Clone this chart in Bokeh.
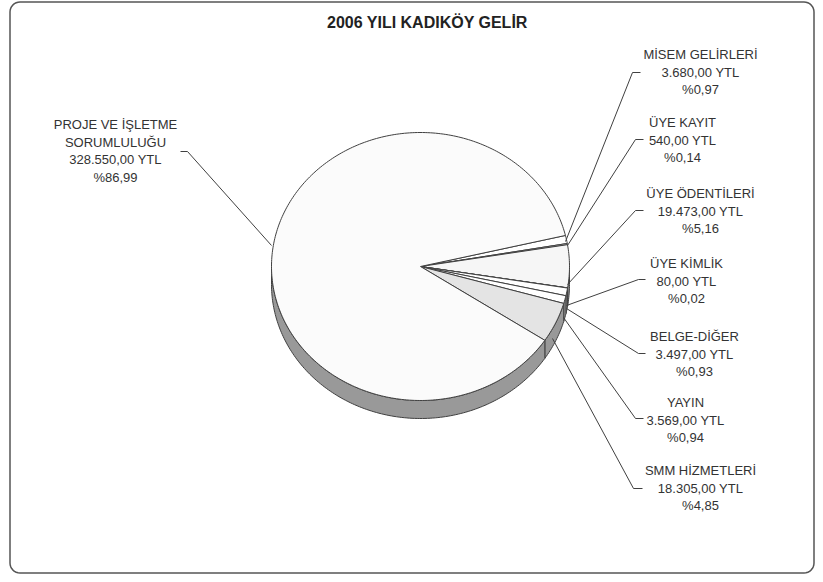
import math
from bokeh.plotting import figure
from bokeh.models import Range1d
from bokeh.core.properties import value
from bokeh.embed import file_html
from bokeh.resources import INLINE

# ---------------- data ----------------
title_text = "2006 YILI KADIKÖY GELİR"
categories = ["MİSEM GELİRLERİ", "ÜYE KAYIT", "ÜYE ÖDENTİLERİ", "ÜYE KİMLİK",
              "BELGE-DİĞER", "YAYIN", "SMM HİZMETLERİ",
              "PROJE VE İŞLETME\nSORUMLULUĞU"]
amounts = [3680, 540, 19473, 80, 3497, 3569, 18305, 328550]
currency = "YTL"

# ---------------- styles / layout ----------------
top_colors = ["#FFFFFF", "#FFFFFF", "#F6F6F6", "#FFFFFF", "#FFFFFF", "#FFFFFF",
              "#E4E4E4", "#FBFBFB"]
side_color = "#999999"
edge_color = "#404040"
text_color = "#333333"
FONT = "Liberation Sans"

W, H = 815, 574
CX, CY, RX, RY, DEPTH = 420, 266, 149, 134, 18
START_DEG = 13.4

label_cx = [700, 682, 700, 686, 694, 685, 700, 115]
label_top = [54, 122, 193, 263, 336, 402, 470, 124]
LINE_H = 17.5
leader_x = [[565, 632, 640], [567, 635, 643], [567, 635, 643], [566, 638, 645],
            [566, 638, 645], [563, 635, 643], [552, 633, 642], [271, 187, 180]]
leader_y = [[241, 72, 72], [245, 139, 139], [284, 210, 210], [305, 279, 279],
            [308, 353, 353], [317, 418, 418], [338, 488, 488], [245, 151, 151]]


def tr_money(v):
    s = f"{v:,.2f}"
    return s.replace(",", "X").replace(".", ",").replace("X", ".")


def arc(a0, a1, dy=0.0):
    n = max(2, int(abs(a1 - a0) / 1.0) + 2)
    xs, ys = [], []
    for i in range(n):
        a = math.radians(a0 + (a1 - a0) * i / (n - 1))
        xs.append(CX + RX * math.cos(a))
        ys.append(CY - RY * math.sin(a) + dy)
    return xs, ys


total = float(sum(amounts))

p = figure(width=W, height=H, x_range=Range1d(0, W), y_range=Range1d(H, 0),
           output_backend="svg", toolbar_location=None, min_border=0,
           x_axis_type=None, y_axis_type=None)
p.outline_line_color = None
p.background_fill_color = "white"
p.border_fill_color = "white"

# chart border (rounded rectangle)
L, T, R, B, rad = 9.5, 1.5, 813.5, 572.5, 10
bx, by = [], []
for (ccx, ccy, a0, a1) in [(L + rad, T + rad, 180, 90), (R - rad, T + rad, 90, 0),
                           (R - rad, B - rad, 0, -90), (L + rad, B - rad, -90, -180)]:
    for i in range(9):
        a = math.radians(a0 + (a1 - a0) * i / 8)
        bx.append(ccx + rad * math.cos(a))
        by.append(ccy - rad * math.sin(a))
bx.append(bx[0]); by.append(by[0])
p.line(bx, by, line_color="#555555", line_width=1.5)

# slice angles (clockwise from START_DEG)
starts, ends = [], []
a = START_DEG
for v in amounts:
    span = v / total * 360.0
    starts.append(a)
    ends.append(a - span)
    a -= span

# side walls (front half: angles between -180 and 0)
sx, sy = [], []
for s, e in zip(starts, ends):
    hi, lo = min(s, 0.0), max(e, -180.0)
    if hi > lo:
        tx, ty = arc(hi, lo)
        bx2, by2 = arc(lo, hi, DEPTH)
        sx.append(tx + bx2)
        sy.append(ty + by2)
p.patches(sx, sy, fill_color=side_color, line_color=edge_color, line_width=1)

# top surfaces
px, py = [], []
for s, e in zip(starts, ends):
    ax_, ay_ = arc(s, e)
    px.append([CX] + ax_ + [CX])
    py.append([CY] + ay_ + [CY])
p.patches(px, py, fill_color=top_colors, line_color=edge_color, line_width=1)

# leader lines
p.multi_line(leader_x, leader_y, line_color=edge_color, line_width=1)

# labels
tx_, ty_, tt_ = [], [], []
for i, (name, v) in enumerate(zip(categories, amounts)):
    lines = name.split("\n") + [f"{tr_money(v)} {currency}",
                                "%" + f"{v / total * 100:.2f}".replace(".", ",")]
    for j, ln in enumerate(lines):
        tx_.append(label_cx[i])
        ty_.append(label_top[i] + j * LINE_H)
        tt_.append(ln)
p.text(x=tx_, y=ty_, text=tt_, text_font=value(FONT), text_font_size="13px",
       text_color=text_color, text_align="center", text_baseline="middle")

# title
p.text(x=[427], y=[21.5], text=[title_text], text_font=value(FONT),
       text_font_size="16px", text_font_style="bold", text_color="#222222",
       text_align="center", text_baseline="middle")

open("out.html", "w").write(file_html(p, INLINE))
